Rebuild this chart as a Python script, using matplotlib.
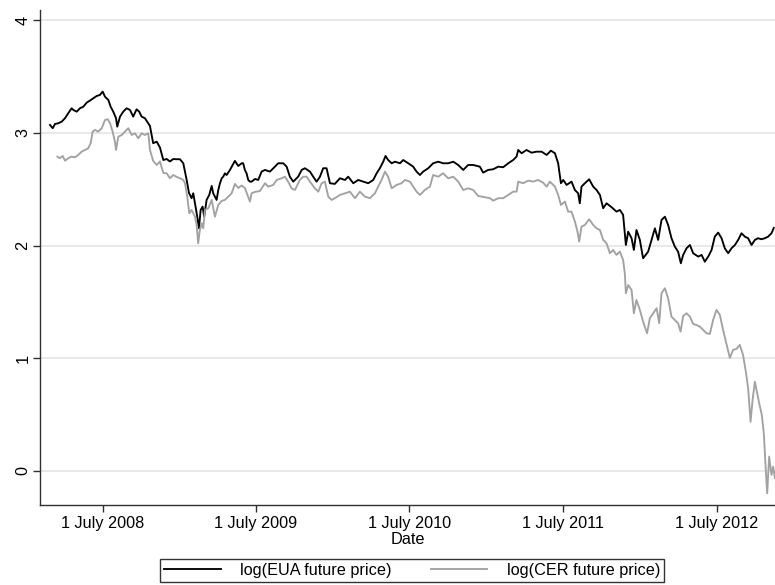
import matplotlib
matplotlib.use("Agg")
import matplotlib.pyplot as plt
import pandas as pd

plt.rcParams["font.family"] = ["Liberation Sans", "DejaVu Sans"]

# Time in decimal years, log prices
eua_t = [
    2008.155, 2008.173, 2008.188, 2008.209, 2008.231, 2008.253, 2008.274, 2008.296,
    2008.307, 2008.329, 2008.350, 2008.372, 2008.394, 2008.415, 2008.437, 2008.459,
    2008.480, 2008.498, 2008.513, 2008.535, 2008.550, 2008.567, 2008.585, 2008.593,
    2008.611, 2008.632, 2008.654, 2008.676, 2008.697, 2008.719, 2008.736, 2008.752,
    2008.773, 2008.788, 2008.806, 2008.827, 2008.850, 2008.871, 2008.893, 2008.915,
    2008.936, 2008.958, 2008.980, 2009.001, 2009.023, 2009.045, 2009.060, 2009.077,
    2009.088, 2009.099, 2009.114, 2009.125, 2009.136, 2009.149, 2009.159, 2009.175,
    2009.192, 2009.208, 2009.218, 2009.240, 2009.251, 2009.262, 2009.273, 2009.283,
    2009.294, 2009.305, 2009.327, 2009.348, 2009.359, 2009.381, 2009.403, 2009.413,
    2009.424, 2009.435, 2009.446, 2009.457, 2009.468, 2009.490, 2009.511, 2009.533,
    2009.555, 2009.587, 2009.620, 2009.641, 2009.674, 2009.696, 2009.717, 2009.739,
    2009.771, 2009.794, 2009.815, 2009.848, 2009.869, 2009.891, 2009.913, 2009.934,
    2009.956, 2009.978, 2010.010, 2010.043, 2010.076, 2010.097, 2010.130, 2010.162,
    2010.195, 2010.227, 2010.260, 2010.282, 2010.303, 2010.325, 2010.340, 2010.357,
    2010.380, 2010.401, 2010.434, 2010.455, 2010.488, 2010.520, 2010.542, 2010.564,
    2010.585, 2010.618, 2010.650, 2010.683, 2010.715, 2010.748, 2010.781, 2010.813,
    2010.846, 2010.878, 2010.911, 2010.954, 2010.976, 2011.008, 2011.041, 2011.074,
    2011.106, 2011.139, 2011.171, 2011.193, 2011.204, 2011.226, 2011.258, 2011.291,
    2011.323, 2011.356, 2011.389, 2011.417, 2011.443, 2011.464, 2011.482, 2011.497,
    2011.519, 2011.551, 2011.573, 2011.594, 2011.605, 2011.616, 2011.638, 2011.666,
    2011.692, 2011.714, 2011.736, 2011.757, 2011.779, 2011.812, 2011.844, 2011.866,
    2011.887, 2011.905, 2011.920, 2011.942, 2011.957, 2011.974, 2011.996, 2012.017,
    2012.050, 2012.072, 2012.094, 2012.115, 2012.137, 2012.159, 2012.180, 2012.202,
    2012.224, 2012.245, 2012.263, 2012.278, 2012.300, 2012.322, 2012.343, 2012.376,
    2012.398, 2012.419, 2012.441, 2012.463, 2012.484, 2012.506, 2012.528, 2012.549,
    2012.571, 2012.593, 2012.615, 2012.636, 2012.658, 2012.680, 2012.701, 2012.723,
    2012.745, 2012.766, 2012.788, 2012.810, 2012.831, 2012.853, 2012.868,
]
eua_log = [
    3.070, 3.041, 3.079, 3.085, 3.099, 3.130, 3.174, 3.218,
    3.203, 3.188, 3.218, 3.232, 3.268, 3.286, 3.307, 3.327,
    3.336, 3.366, 3.321, 3.292, 3.232, 3.188, 3.130, 3.055,
    3.144, 3.188, 3.218, 3.203, 3.144, 3.209, 3.188, 3.144,
    3.130, 3.099, 3.061, 2.908, 2.922, 2.870, 2.759, 2.768,
    2.746, 2.768, 2.766, 2.766, 2.730, 2.582, 2.467, 2.420,
    2.464, 2.375, 2.256, 2.153, 2.316, 2.345, 2.256, 2.405,
    2.449, 2.529, 2.464, 2.405, 2.493, 2.553, 2.597, 2.611,
    2.641, 2.626, 2.671, 2.724, 2.751, 2.706, 2.730, 2.730,
    2.671, 2.641, 2.582, 2.567, 2.567, 2.591, 2.582, 2.656,
    2.671, 2.656, 2.700, 2.730, 2.730, 2.700, 2.611, 2.567,
    2.611, 2.671, 2.686, 2.656, 2.611, 2.567, 2.611, 2.686,
    2.686, 2.553, 2.547, 2.597, 2.582, 2.611, 2.553, 2.582,
    2.567, 2.553, 2.582, 2.641, 2.686, 2.744, 2.795, 2.759,
    2.730, 2.744, 2.730, 2.759, 2.730, 2.700, 2.656, 2.626,
    2.656, 2.686, 2.730, 2.744, 2.730, 2.730, 2.744, 2.715,
    2.671, 2.715, 2.715, 2.700, 2.647, 2.671, 2.677, 2.700,
    2.695, 2.730, 2.759, 2.789, 2.848, 2.819, 2.848, 2.824,
    2.833, 2.833, 2.804, 2.842, 2.819, 2.730, 2.553, 2.582,
    2.538, 2.567, 2.493, 2.464, 2.375, 2.523, 2.553, 2.588,
    2.523, 2.493, 2.449, 2.331, 2.375, 2.340, 2.301, 2.316,
    2.272, 2.005, 2.123, 2.065, 1.961, 2.138, 2.050, 1.887,
    1.946, 2.050, 2.153, 2.050, 2.227, 2.256, 2.183, 2.065,
    1.990, 1.946, 1.843, 1.917, 1.976, 2.005, 1.932, 1.902,
    1.917, 1.857, 1.902, 1.961, 2.079, 2.115, 2.065, 1.976,
    1.932, 1.976, 2.005, 2.050, 2.109, 2.079, 2.065, 2.005,
    2.050, 2.065, 2.056, 2.065, 2.079, 2.109, 2.156,
]

cer_t = [
    2008.203, 2008.220, 2008.238, 2008.253, 2008.274, 2008.296, 2008.318, 2008.339,
    2008.361, 2008.383, 2008.404, 2008.420, 2008.433, 2008.448, 2008.469, 2008.492,
    2008.513, 2008.531, 2008.546, 2008.563, 2008.578, 2008.585, 2008.600, 2008.622,
    2008.643, 2008.665, 2008.687, 2008.708, 2008.730, 2008.752, 2008.773, 2008.795,
    2008.806, 2008.827, 2008.850, 2008.871, 2008.893, 2008.915, 2008.936, 2008.958,
    2008.980, 2009.001, 2009.023, 2009.034, 2009.049, 2009.062, 2009.077, 2009.099,
    2009.110, 2009.120, 2009.131, 2009.143, 2009.153, 2009.164, 2009.186, 2009.208,
    2009.229, 2009.251, 2009.273, 2009.294, 2009.316, 2009.338, 2009.359, 2009.381,
    2009.403, 2009.424, 2009.446, 2009.457, 2009.468, 2009.490, 2009.522, 2009.555,
    2009.576, 2009.609, 2009.631, 2009.663, 2009.685, 2009.706, 2009.728, 2009.750,
    2009.782, 2009.804, 2009.826, 2009.848, 2009.880, 2009.902, 2009.924, 2009.945,
    2009.967, 2009.989, 2010.010, 2010.043, 2010.076, 2010.108, 2010.141, 2010.173,
    2010.206, 2010.238, 2010.271, 2010.292, 2010.314, 2010.336, 2010.357, 2010.380,
    2010.412, 2010.445, 2010.466, 2010.499, 2010.520, 2010.542, 2010.564, 2010.596,
    2010.629, 2010.650, 2010.683, 2010.715, 2010.748, 2010.781, 2010.813, 2010.846,
    2010.878, 2010.911, 2010.943, 2010.987, 2011.020, 2011.041, 2011.074, 2011.106,
    2011.139, 2011.171, 2011.193, 2011.204, 2011.236, 2011.269, 2011.301, 2011.334,
    2011.366, 2011.389, 2011.410, 2011.443, 2011.464, 2011.482, 2011.508, 2011.529,
    2011.551, 2011.573, 2011.590, 2011.601, 2011.616, 2011.638, 2011.666, 2011.692,
    2011.714, 2011.736, 2011.757, 2011.779, 2011.801, 2011.822, 2011.844, 2011.866,
    2011.887, 2011.898, 2011.905, 2011.920, 2011.942, 2011.957, 2011.974, 2011.996,
    2012.017, 2012.043, 2012.061, 2012.083, 2012.105, 2012.122, 2012.137, 2012.159,
    2012.180, 2012.202, 2012.224, 2012.245, 2012.261, 2012.278, 2012.300, 2012.322,
    2012.343, 2012.365, 2012.387, 2012.408, 2012.430, 2012.452, 2012.473, 2012.495,
    2012.517, 2012.538, 2012.560, 2012.582, 2012.603, 2012.625, 2012.647, 2012.668,
    2012.686, 2012.701, 2012.717, 2012.730, 2012.745, 2012.760, 2012.773, 2012.790,
    2012.803, 2012.816, 2012.825, 2012.838, 2012.853, 2012.864, 2012.875,
]
cer_log = [
    2.789, 2.775, 2.795, 2.753, 2.775, 2.789, 2.783, 2.804,
    2.833, 2.848, 2.863, 2.908, 3.011, 3.026, 3.011, 3.041,
    3.114, 3.121, 3.085, 3.011, 2.922, 2.848, 2.966, 2.981,
    3.011, 3.041, 2.981, 2.996, 2.952, 2.996, 2.981, 2.996,
    2.848, 2.751, 2.715, 2.746, 2.644, 2.641, 2.597, 2.626,
    2.609, 2.597, 2.582, 2.553, 2.434, 2.287, 2.316, 2.256,
    2.183, 2.020, 2.138, 2.198, 2.153, 2.316, 2.331, 2.405,
    2.256, 2.360, 2.396, 2.405, 2.434, 2.464, 2.547, 2.511,
    2.533, 2.511, 2.431, 2.390, 2.464, 2.476, 2.484, 2.553,
    2.523, 2.538, 2.582, 2.597, 2.611, 2.567, 2.508, 2.493,
    2.582, 2.611, 2.611, 2.567, 2.508, 2.478, 2.553, 2.567,
    2.434, 2.405, 2.420, 2.449, 2.464, 2.478, 2.420, 2.478,
    2.434, 2.420, 2.464, 2.523, 2.582, 2.656, 2.611, 2.508,
    2.538, 2.553, 2.582, 2.567, 2.523, 2.478, 2.449, 2.493,
    2.523, 2.626, 2.611, 2.641, 2.597, 2.611, 2.567, 2.493,
    2.508, 2.493, 2.440, 2.429, 2.420, 2.398, 2.420, 2.420,
    2.449, 2.478, 2.478, 2.567, 2.553, 2.576, 2.567, 2.582,
    2.558, 2.523, 2.567, 2.523, 2.449, 2.360, 2.390, 2.301,
    2.301, 2.212, 2.123, 2.035, 2.168, 2.183, 2.233, 2.183,
    2.153, 2.138, 2.050, 2.020, 1.932, 1.961, 1.917, 1.946,
    1.872, 1.754, 1.577, 1.650, 1.606, 1.399, 1.517, 1.429,
    1.325, 1.222, 1.355, 1.399, 1.444, 1.311, 1.577, 1.621,
    1.532, 1.369, 1.340, 1.311, 1.236, 1.375, 1.399, 1.369,
    1.304, 1.295, 1.280, 1.251, 1.222, 1.216, 1.340, 1.429,
    1.384, 1.251, 1.127, 1.003, 1.074, 1.083, 1.118, 1.029,
    0.881, 0.736, 0.437, 0.630, 0.792, 0.689, 0.601, 0.497,
    0.337, 0.009, -0.198, 0.127, -0.035, 0.038, -0.062,
]

tick_dates = pd.to_datetime(["2008-07-01", "2009-07-01", "2010-07-01",
                             "2011-07-01", "2012-07-01"])
tick_labels = ["1 July 2008", "1 July 2009", "1 July 2010",
               "1 July 2011", "1 July 2012"]
y_ticks = [0, 1, 2, 3, 4]
series_labels = ["log(EUA future price)", "log(CER future price)"]


def decimal_year(ts):
    start = pd.Timestamp(year=ts.year, month=1, day=1)
    end = pd.Timestamp(year=ts.year + 1, month=1, day=1)
    return ts.year + (ts - start) / (end - start)


tick_pos = [decimal_year(d) for d in tick_dates]

fig = plt.figure(figsize=(7.75, 5.85), dpi=100)
ax = fig.add_axes([40 / 775, 1 - 505 / 585, 1 - 40 / 775, (505 - 10) / 585])

ax.set_axisbelow(True)
ax.grid(axis="y", color="#e3e3e3", linewidth=1.1)
ax.grid(axis="x", visible=False)

l1, = ax.plot(eua_t, eua_log, color="black", linewidth=1.35, label=series_labels[0])
l2, = ax.plot(cer_t, cer_log, color="#a2a2a2", linewidth=1.35, label=series_labels[1])

ax.set_xlim(2008.090, 2012.876)
ax.set_ylim(-0.302, 4.09)

ax.set_xticks(tick_pos)
ax.set_xticklabels(tick_labels)
ax.set_yticks(y_ticks)
ax.set_yticklabels([str(v) for v in y_ticks], rotation=90, va="center")

for side in ("top", "right"):
    ax.spines[side].set_visible(False)
for side in ("left", "bottom"):
    ax.spines[side].set_color("#303030")
    ax.spines[side].set_linewidth(1.0)

ax.tick_params(axis="both", direction="out", length=5, width=1.0,
               color="#303030", labelsize=11.7, labelcolor="black")
ax.tick_params(axis="x", pad=3)
ax.tick_params(axis="y", pad=2)

ax.set_xlabel("Date", fontsize=11.7, labelpad=1)

leg = fig.legend(handles=[l1, l2], labels=series_labels, ncol=2,
                 loc="lower center", bbox_to_anchor=(412 / 775, 3 / 585),
                 borderaxespad=0, frameon=True, fancybox=False, fontsize=11.7,
                 handlelength=3.5, handletextpad=1.2, columnspacing=2.4,
                 borderpad=0.25)
leg.get_frame().set_edgecolor("black")
leg.get_frame().set_linewidth(1.0)

fig.savefig("out.png", dpi=100)
